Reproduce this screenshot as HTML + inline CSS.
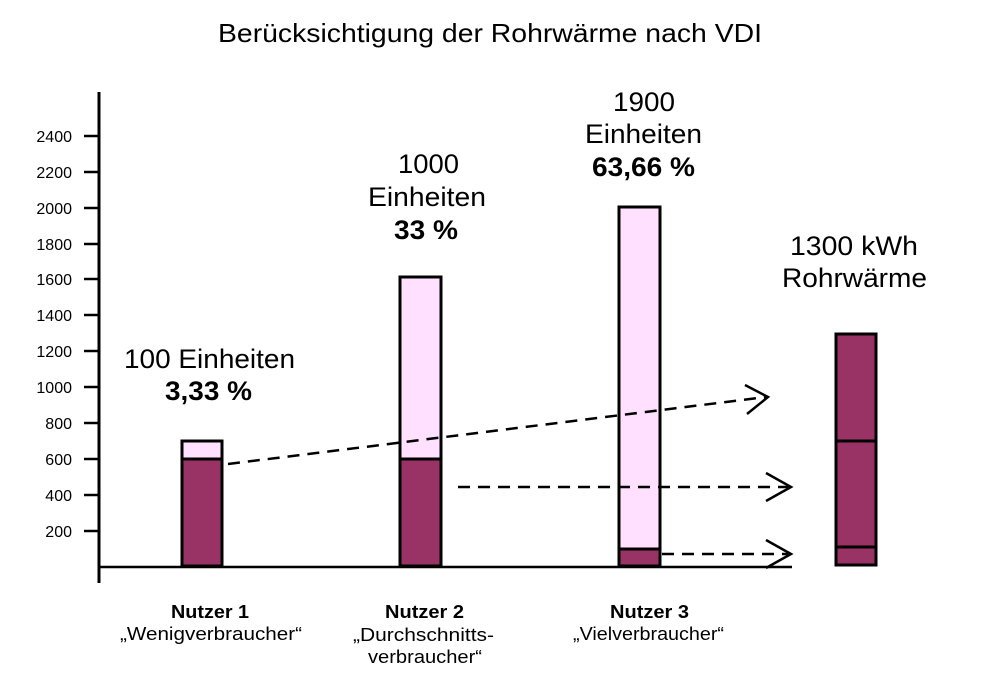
<!DOCTYPE html>
<html><head><meta charset="utf-8"><style>
body{margin:0;background:#fff}
svg{display:block;font-family:"Liberation Sans",Arial,sans-serif}
</style></head><body>
<svg width="983" height="697" viewBox="0 0 983 697">
<text x="218" y="42" font-size="26" textLength="544" lengthAdjust="spacingAndGlyphs">Berücksichtigung der Rohrwärme nach VDI</text>
<line x1="99" y1="92" x2="99" y2="583" stroke="#000" stroke-width="3"/>
<line x1="99" y1="567" x2="792" y2="567" stroke="#000" stroke-width="2.5"/>
<g font-size="16" text-anchor="end">
<text x="72" y="142">2400</text><text x="72" y="178">2200</text><text x="72" y="214">2000</text>
<text x="72" y="250">1800</text><text x="72" y="285">1600</text><text x="72" y="321">1400</text>
<text x="72" y="357">1200</text><text x="72" y="393">1000</text><text x="72" y="429">800</text>
<text x="72" y="465">600</text><text x="72" y="501">400</text><text x="72" y="537">200</text>
</g>
<g stroke="#000" stroke-width="2.5">
<line x1="84" y1="136" x2="99" y2="136"/><line x1="84" y1="172" x2="99" y2="172"/><line x1="84" y1="208" x2="99" y2="208"/>
<line x1="84" y1="244" x2="99" y2="244"/><line x1="84" y1="279" x2="99" y2="279"/><line x1="84" y1="315" x2="99" y2="315"/>
<line x1="84" y1="351" x2="99" y2="351"/><line x1="84" y1="387" x2="99" y2="387"/><line x1="84" y1="423" x2="99" y2="423"/>
<line x1="84" y1="459" x2="99" y2="459"/><line x1="84" y1="495" x2="99" y2="495"/><line x1="84" y1="531" x2="99" y2="531"/>
</g>
<g stroke="#000" stroke-width="3">
<rect x="182" y="441" width="40" height="18" fill="#FFE0FF"/>
<rect x="182" y="459" width="40" height="107" fill="#993366"/>
<rect x="400" y="277" width="41" height="182" fill="#FFE0FF"/>
<rect x="400" y="459" width="41" height="107" fill="#993366"/>
<rect x="619" y="207" width="41" height="342" fill="#FFE0FF"/>
<rect x="619" y="549" width="41" height="17" fill="#993366"/>
<rect x="836" y="334" width="40" height="231" fill="#993366"/>
<line x1="836" y1="441" x2="876" y2="441"/>
<line x1="836" y1="547" x2="876" y2="547"/>
</g>
<g stroke="#000" stroke-width="2.5" fill="none">
<line x1="228" y1="464" x2="766" y2="397" stroke-dasharray="12,8"/>
<polyline points="745,385 768,397 747,414"/>
<line x1="458" y1="487" x2="788" y2="487" stroke-dasharray="12,8"/>
<polyline points="766,473 791,487 766,501"/>
<line x1="662" y1="554" x2="788" y2="554" stroke-dasharray="12,8"/>
<polyline points="766,540 791,554 766,568"/>
</g>
<g font-size="27">
<text x="124" y="368" textLength="171" lengthAdjust="spacingAndGlyphs">100 Einheiten</text>
<text x="165" y="400" font-weight="bold" textLength="87" lengthAdjust="spacingAndGlyphs">3,33 %</text>
<text x="398" y="173" textLength="61" lengthAdjust="spacingAndGlyphs">1000</text>
<text x="368" y="206" textLength="118" lengthAdjust="spacingAndGlyphs">Einheiten</text>
<text x="394" y="239" font-weight="bold" textLength="64" lengthAdjust="spacingAndGlyphs">33 %</text>
<text x="613" y="111" textLength="62" lengthAdjust="spacingAndGlyphs">1900</text>
<text x="585" y="143" textLength="117" lengthAdjust="spacingAndGlyphs">Einheiten</text>
<text x="592" y="176" font-weight="bold" textLength="103" lengthAdjust="spacingAndGlyphs">63,66 %</text>
<text x="790" y="255" textLength="128" lengthAdjust="spacingAndGlyphs">1300 kWh</text>
<text x="782" y="287" textLength="145" lengthAdjust="spacingAndGlyphs">Rohrwärme</text>
</g>
<g font-size="18">
<text x="171" y="618" font-weight="bold" textLength="78" lengthAdjust="spacingAndGlyphs">Nutzer 1</text>
<text x="120" y="640" textLength="182" lengthAdjust="spacingAndGlyphs">„Wenigverbraucher“</text>
<text x="385" y="618" font-weight="bold" textLength="79" lengthAdjust="spacingAndGlyphs">Nutzer 2</text>
<text x="353" y="641" textLength="141" lengthAdjust="spacingAndGlyphs">„Durchschnitts-</text>
<text x="368" y="663" textLength="114" lengthAdjust="spacingAndGlyphs">verbraucher“</text>
<text x="610" y="618" font-weight="bold" textLength="79" lengthAdjust="spacingAndGlyphs">Nutzer 3</text>
<text x="573" y="640" textLength="151" lengthAdjust="spacingAndGlyphs">„Vielverbraucher“</text>
</g>
</svg>
</body></html>
